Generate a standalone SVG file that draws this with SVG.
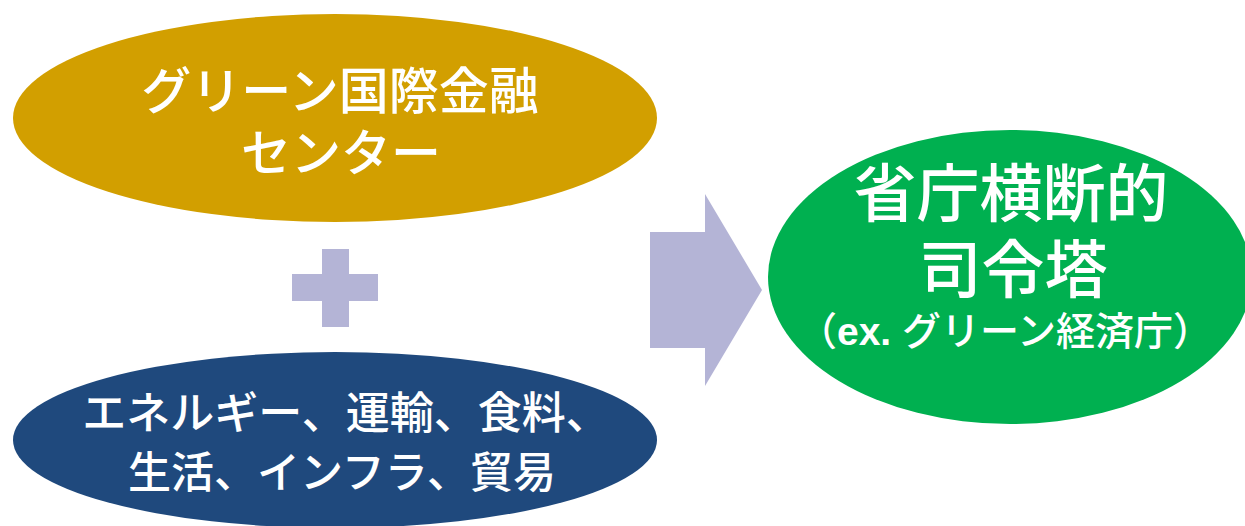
<svg xmlns="http://www.w3.org/2000/svg" width="1245" height="526" viewBox="0 0 1245 526">
<style>
.t{font-family:"Liberation Sans","Noto Sans CJK JP",sans-serif;font-weight:500;fill:#fff;text-anchor:middle}
.b{font-weight:bold}
.sym{fill:#b4b4d6}
</style>
<rect width="1245" height="526" fill="#fff"/>
<g id="node-green-finance">
<ellipse cx="335" cy="118" rx="322" ry="104" fill="#d29f00"/>
<text class="t" x="340" y="109" font-size="50">グリーン国際金融</text>
<text class="t" x="341" y="171" font-size="50">センター</text>
</g>
<g id="node-sectors">
<ellipse cx="335" cy="440" rx="322" ry="88" fill="#1f497d"/>
<text class="t" x="346" y="429" font-size="44">エネルギー、運輸、食料、</text>
<text class="t" x="342" y="488" font-size="43">生活、インフラ、貿易</text>
</g>
<g id="node-plus">
<rect class="sym" x="322" y="249" width="27" height="78"/>
<rect class="sym" x="292" y="274" width="86" height="27"/>
</g>
<g id="connectors">
<polygon class="sym" points="650,232 705,232 705,194 762,290 705,386 705,348 650,348"/>
</g>
<g id="node-command">
<ellipse cx="1010" cy="277" rx="242" ry="147" fill="#00b050"/>
<text class="t" x="1011" y="216" font-size="63">省庁横断的</text>
<text class="t" x="1013" y="292" font-size="63">司令塔</text>
<text class="t" x="1005" y="345" font-size="39">（<tspan class="b">ex.</tspan> グリーン経済庁）</text>
</g>
</svg>
